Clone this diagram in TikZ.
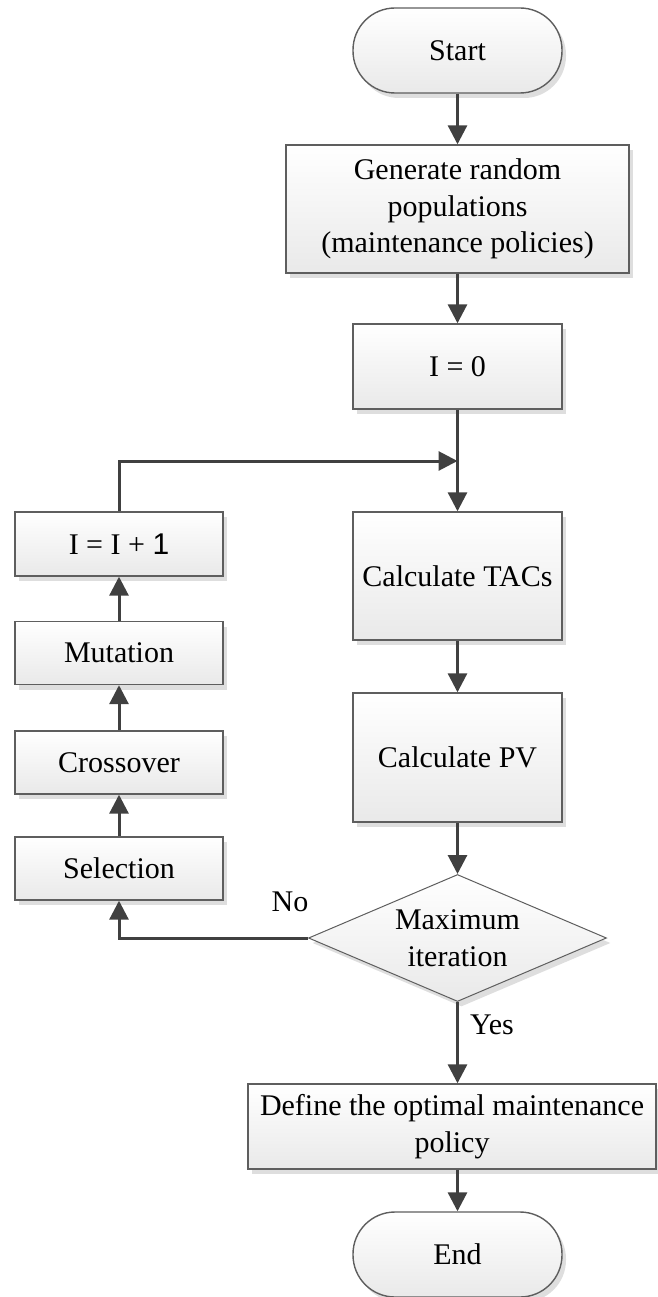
\documentclass[tikz,border=0pt]{standalone}
\usepackage{fontspec}
\setmainfont{Liberation Serif}
\newfontfamily\digitsans{Liberation Sans}
\usetikzlibrary{arrows.meta,shapes.geometric,shadows}
\definecolor{linegray}{HTML}{404040}
\definecolor{bordergray}{HTML}{5E5E5E}
\definecolor{fillgray}{HTML}{E9E9E9}
\definecolor{shadowgray}{HTML}{DEDEDE}
\begin{document}
\begin{tikzpicture}[x=1pt,y=-1pt,
  font=\fontsize{30}{36.5}\selectfont,
  boxshadow/.style={drop shadow={shadow xshift=4pt,shadow yshift=-5pt,fill=shadowgray,opacity=1}},
  stepbox/.style={draw=bordergray, line width=1.4pt, top color=white, bottom color=fillgray,
    boxshadow, inner sep=0pt, align=center},
  terminal/.style={stepbox, rounded corners=42pt, minimum width=209pt, minimum height=85pt},
  decision/.style={diamond, draw=bordergray, line width=1pt, top color=white, bottom color=fillgray,
    boxshadow, inner sep=0pt, minimum width=298pt, minimum height=127pt},
  flow/.style={-{Triangle[length=19pt,width=19pt]}, draw=linegray, line width=3pt},
  tag/.style={inner sep=0pt}
]
\useasboundingbox (0,0) rectangle (657,1297);

% main column
\node[terminal] (start) at (457.5,50.5) {Start};
\node[stepbox, minimum width=343pt, minimum height=128pt] (gen) at (457.5,209)
  {Generate random\\populations\\(maintenance policies)};
\node[stepbox, minimum width=209pt, minimum height=85pt] (init) at (457.5,366.5) {I = 0};
\coordinate (join) at (457.5,461);
\node[stepbox, minimum width=209pt, minimum height=128pt] (tacs) at (457.5,576) {Calculate TACs};
\node[stepbox, minimum width=209pt, minimum height=129pt] (pv) at (457.5,757.5) {Calculate PV};
\node[decision] (check) at (457.5,938) {};
\node[align=center, inner sep=0pt] (checktext) at (check.center) {Maximum\\iteration};
\node[stepbox, minimum width=408pt, minimum height=85pt] (best) at (452,1126.5)
  {Define the optimal maintenance\\policy};
\node[terminal] (end) at (457.5,1254.5) {End};

% genetic operators column
\node[stepbox, minimum width=208pt, minimum height=64pt] (incr) at (119,544) {I = I + {\digitsans 1}};
\node[stepbox, minimum width=208pt, minimum height=63pt] (mut) at (119,653) {Mutation};
\node[stepbox, minimum width=208pt, minimum height=63pt] (cross) at (119,762.5) {Crossover};
\node[stepbox, minimum width=208pt, minimum height=63pt] (sel) at (119,868.5) {Selection};

% connectors
\draw[flow] (start.south) -- (gen.north);
\draw[flow] (gen.south) -- (init.north);
\draw[flow] (init.south) -- (tacs.north);
\draw[flow] (incr.north) |- (join);
\draw[flow] (tacs.south) -- (pv.north);
\draw[flow] (pv.south) -- (check.north);
\draw[flow] (check.west) -| (sel.south);
\draw[flow] (sel.north) -- (cross.south);
\draw[flow] (cross.north) -- (mut.south);
\draw[flow] (mut.north) -- (incr.south);
\draw[flow] (check.south) -- (check.south |- best.north);
\draw[flow] (end.north |- best.south) -- (end.north);

% branch labels
\node[tag] (nolabel) at (290,902) {No};
\node[tag] (yeslabel) at (492,1025) {Yes};
\end{tikzpicture}
\end{document}
